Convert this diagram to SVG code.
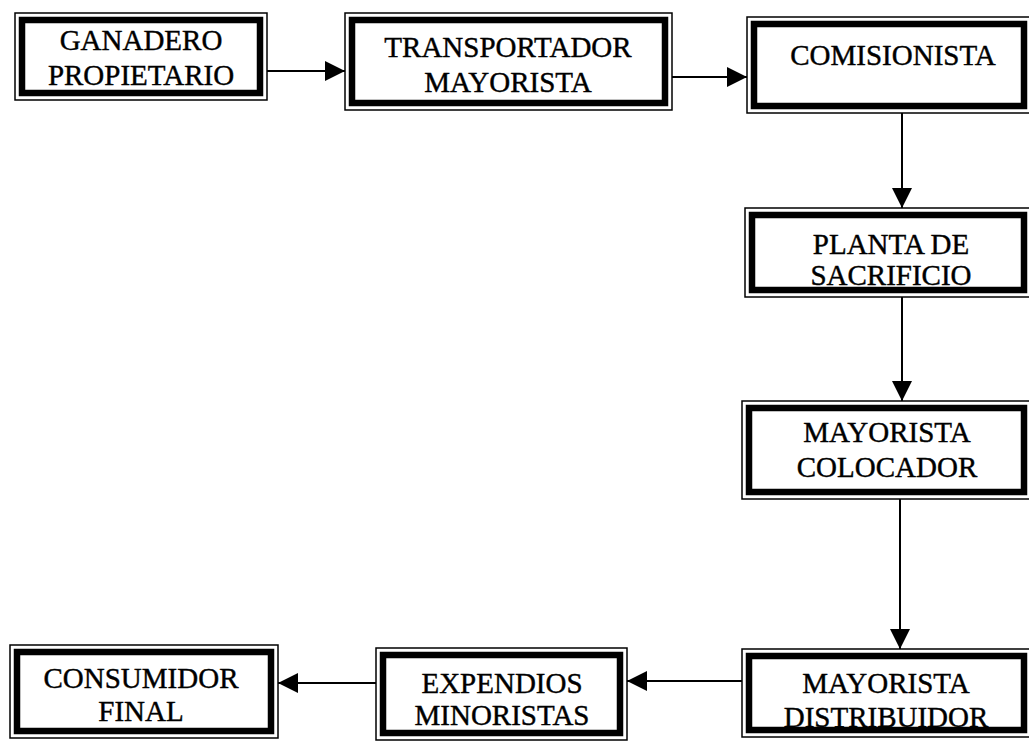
<svg xmlns="http://www.w3.org/2000/svg" width="1029" height="744" viewBox="0 0 1029 744">
<style>
.outer{fill:#fff;stroke:#000;stroke-width:1.5}
.inner{fill:none;stroke:#000;stroke-width:6.5}
.lbl{font-family:"Liberation Serif","Times New Roman",serif;font-size:29px;text-anchor:middle;fill:#000;stroke:#000;stroke-width:0.4}
.conn{stroke:#000;stroke-width:2;fill:none;marker-end:url(#ah)}
</style>
<defs>
<marker id="ah" markerUnits="userSpaceOnUse" markerWidth="20" markerHeight="20" refX="20" refY="10" orient="auto">
<path d="M0,0 L20,10 L0,20 z" fill="#000"/>
</marker>
</defs>
<rect width="1029" height="744" fill="#fff"/>
<g id="connectors">
<line class="conn" x1="267" y1="71" x2="345" y2="71"/>
<line class="conn" x1="672" y1="77" x2="747" y2="77"/>
<line class="conn" x1="902" y1="113" x2="902" y2="208"/>
<line class="conn" x1="902" y1="297" x2="902" y2="401"/>
<line class="conn" x1="900" y1="499" x2="900" y2="649"/>
<line class="conn" x1="742" y1="681" x2="627" y2="681"/>
<line class="conn" x1="376" y1="683" x2="278" y2="683"/>
</g>
<g id="ganadero">
<rect class="outer" x="15" y="13" width="252" height="87"/>
<rect class="inner" x="22" y="20" width="238" height="73"/>
<text class="lbl" x="141" y="50">GANADERO</text>
<text class="lbl" x="141" y="85">PROPIETARIO</text>
</g>
<g id="transportador">
<rect class="outer" x="345" y="13" width="327" height="97"/>
<rect class="inner" x="352" y="20" width="313" height="83"/>
<text class="lbl" x="508" y="57">TRANSPORTADOR</text>
<text class="lbl" x="508" y="92">MAYORISTA</text>
</g>
<g id="comisionista">
<rect class="outer" x="747" y="17" width="284" height="96"/>
<rect class="inner" x="754" y="24" width="270" height="82"/>
<text class="lbl" x="893" y="65">COMISIONISTA</text>
</g>
<g id="planta">
<rect class="outer" x="745" y="208" width="286" height="89"/>
<rect class="inner" x="752" y="215" width="272" height="75"/>
<text class="lbl" x="891" y="254">PLANTA DE</text>
<text class="lbl" x="891" y="285">SACRIFICIO</text>
</g>
<g id="colocador">
<rect class="outer" x="742" y="401" width="289" height="98"/>
<rect class="inner" x="749" y="408" width="275" height="84"/>
<text class="lbl" x="887" y="442">MAYORISTA</text>
<text class="lbl" x="887" y="477">COLOCADOR</text>
</g>
<g id="distribuidor">
<rect class="outer" x="742" y="649" width="289" height="88"/>
<rect class="inner" x="749" y="656" width="275" height="74"/>
<text class="lbl" x="886" y="693">MAYORISTA</text>
<text class="lbl" x="886" y="727">DISTRIBUIDOR</text>
</g>
<g id="expendios">
<rect class="outer" x="376" y="648" width="251" height="92"/>
<rect class="inner" x="383" y="655" width="237" height="78"/>
<text class="lbl" x="502" y="693">EXPENDIOS</text>
<text class="lbl" x="502" y="725">MINORISTAS</text>
</g>
<g id="consumidor">
<rect class="outer" x="10" y="645" width="268" height="93"/>
<rect class="inner" x="17" y="652" width="254" height="79"/>
<text class="lbl" x="141" y="688">CONSUMIDOR</text>
<text class="lbl" x="141" y="721">FINAL</text>
</g>
</svg>
